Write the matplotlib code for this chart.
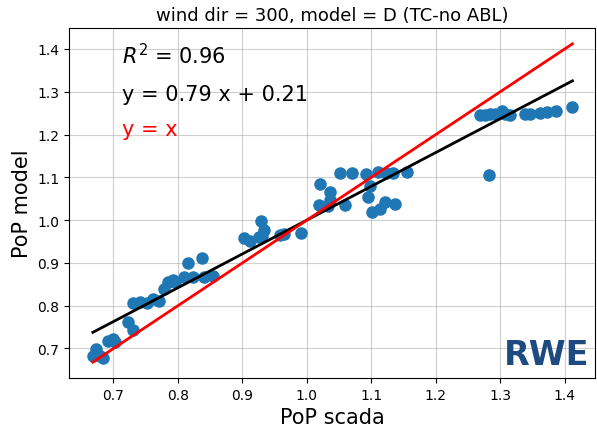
import numpy as np
import matplotlib
matplotlib.use("Agg")
import matplotlib.pyplot as plt

# PoP values: SCADA measurement vs. model D (TC-no ABL), wind direction 300
pop_scada = [0.668, 0.673, 0.679, 0.684, 0.692, 0.699, 0.703, 0.723, 0.730, 0.731,
             0.741, 0.752, 0.761, 0.770, 0.778, 0.784, 0.793, 0.796, 0.809, 0.816,
             0.824, 0.837, 0.840, 0.855, 0.902, 0.912, 0.925, 0.929, 0.930, 0.934,
             0.958, 0.964, 0.991, 1.019, 1.020, 1.033, 1.036, 1.036, 1.051, 1.059,
             1.070, 1.091, 1.095, 1.098, 1.101, 1.111, 1.113, 1.121, 1.123, 1.134,
             1.137, 1.156, 1.269, 1.276, 1.283, 1.284, 1.292, 1.302, 1.307, 1.315,
             1.338, 1.346, 1.362, 1.373, 1.386, 1.412]
pop_model = [0.683, 0.699, 0.682, 0.677, 0.718, 0.722, 0.715, 0.763, 0.744, 0.807,
             0.808, 0.807, 0.816, 0.812, 0.839, 0.856, 0.859, 0.855, 0.867, 0.899,
             0.868, 0.911, 0.867, 0.869, 0.958, 0.952, 0.960, 0.999, 0.964, 0.978,
             0.965, 0.968, 0.970, 1.036, 1.085, 1.034, 1.046, 1.065, 1.110, 1.036,
             1.110, 1.108, 1.053, 1.079, 1.020, 1.112, 1.026, 1.043, 1.110, 1.110,
             1.038, 1.113, 1.246, 1.246, 1.106, 1.248, 1.248, 1.256, 1.248, 1.246,
             1.248, 1.248, 1.250, 1.252, 1.256, 1.264]

# linear regression summary
slope = 0.79
intercept = 0.21
r_squared = 0.96

fig = plt.figure(figsize=(5.97, 4.35), dpi=100)
ax = fig.add_axes([0.1156, 0.1287, 0.881, 0.8046])

ax.scatter(pop_scada, pop_model, s=64, color="#1f77b4", zorder=2)

x_line = np.array([min(pop_scada), max(pop_scada)])
ax.plot(x_line, slope * x_line + intercept, color="black", lw=2, zorder=3)
ax.plot(x_line, x_line, color="red", lw=2, zorder=3)

ax.set_xlim(0.631, 1.447)
ax.set_ylim(0.631, 1.449)
ax.set_xticks(np.arange(0.7, 1.41, 0.1))
ax.set_yticks(np.arange(0.7, 1.41, 0.1))
ax.grid(True, color="#b0b0b0", lw=0.8, alpha=0.6)
ax.set_axisbelow(True)
ax.tick_params(labelsize=10)

ax.set_xlabel("PoP scada", fontsize=15)
ax.set_ylabel("PoP model", fontsize=15)
ax.set_title("wind dir = 300, model = D (TC-no ABL)", fontsize=13)

ax.text(0.1, 0.9, f"$R^2$ = {r_squared:.2f}", transform=ax.transAxes, fontsize=15)
ax.text(0.1, 0.795, f"y = {slope:.2f} x + {intercept:.2f}", transform=ax.transAxes, fontsize=15)
ax.text(0.1, 0.695, "y = x", transform=ax.transAxes, fontsize=15, color="red")

ax.text(0.99, 0.02, "RWE", transform=ax.transAxes, ha="right", va="bottom",
        fontsize=24, fontweight="bold", color="#1d4a80")

fig.savefig("out.png", dpi=100)
